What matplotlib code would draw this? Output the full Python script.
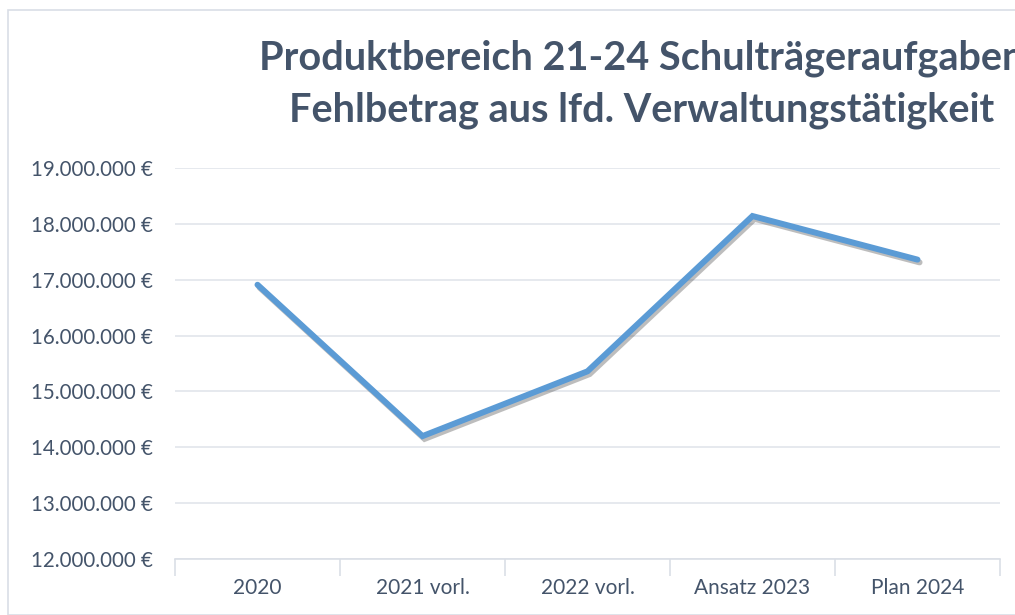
import matplotlib
matplotlib.use("Agg")
import matplotlib.pyplot as plt
import matplotlib.patheffects as pe
from matplotlib.ticker import FuncFormatter, FixedLocator
from matplotlib.patches import Rectangle

categories = ["2020", "2021 vorl.", "2022 vorl.", "Ansatz 2023", "Plan 2024"]
values = [16910000, 14200000, 15360000, 18140000, 17360000]
yticks = [12000000, 13000000, 14000000, 15000000, 16000000, 17000000, 18000000, 19000000]

W, H = 1015, 615
fig = plt.figure(figsize=(W / 100, H / 100), dpi=100)
fig.patch.set_facecolor("white")

# chart border
fig.patches.append(Rectangle((8 / W, 0), 1.2, 1 - 10 / H, transform=fig.transFigure,
                             fill=False, edgecolor="#D9DEE6", linewidth=1.2))

left, right, top, bottom = 175, 1000, 168, 559
ax = fig.add_axes([left / W, 1 - bottom / H, (right - left) / W, (bottom - top) / H])

x = list(range(len(categories)))
ax.plot(x, values, color="#5B9BD5", linewidth=4.3, solid_capstyle="round", solid_joinstyle="miter",
        path_effects=[pe.SimpleLineShadow(offset=(1.5, -2), shadow_color="#444444", alpha=0.35),
                      pe.Normal()], zorder=3)

ax.set_xlim(-0.5, len(categories) - 0.5)
ax.set_ylim(12000000, 19000000)
ax.yaxis.set_major_locator(FixedLocator(yticks))
ax.yaxis.set_major_formatter(FuncFormatter(lambda v, p: f"{int(v):,}".replace(",", ".") + " €"))
ax.set_xticks(x)
ax.set_xticklabels(categories)
ax.set_xticks([i - 0.5 for i in range(len(categories) + 1)], minor=True)

ax.grid(axis="y", color="#E1E5EB", linewidth=1.2, zorder=0)
for s in ["top", "right", "left"]:
    ax.spines[s].set_visible(False)
ax.spines["bottom"].set_color("#DADFE6")
ax.spines["bottom"].set_linewidth(1.2)

ax.tick_params(axis="y", length=0, pad=16, labelsize=14.8, labelcolor="#44546A")
ax.tick_params(axis="x", which="major", length=0, pad=14, labelsize=15, labelcolor="#44546A")
ax.tick_params(axis="x", which="minor", length=12, width=1.2, color="#DADFE6")
for lab in ax.get_xticklabels() + ax.get_yticklabels():
    lab.set_fontfamily("Lato")

fig.text(642 / W, 1 - 58 / H, "Produktbereich 21-24 Schulträgeraufgaben",
         ha="center", va="center", fontsize=28.5, fontweight="bold", color="#44546A", family="Lato")
fig.text(642 / W, 1 - 110 / H, "Fehlbetrag aus lfd. Verwaltungstätigkeit",
         ha="center", va="center", fontsize=28.5, fontweight="bold", color="#44546A", family="Lato")

fig.savefig("out.png", dpi=100)
